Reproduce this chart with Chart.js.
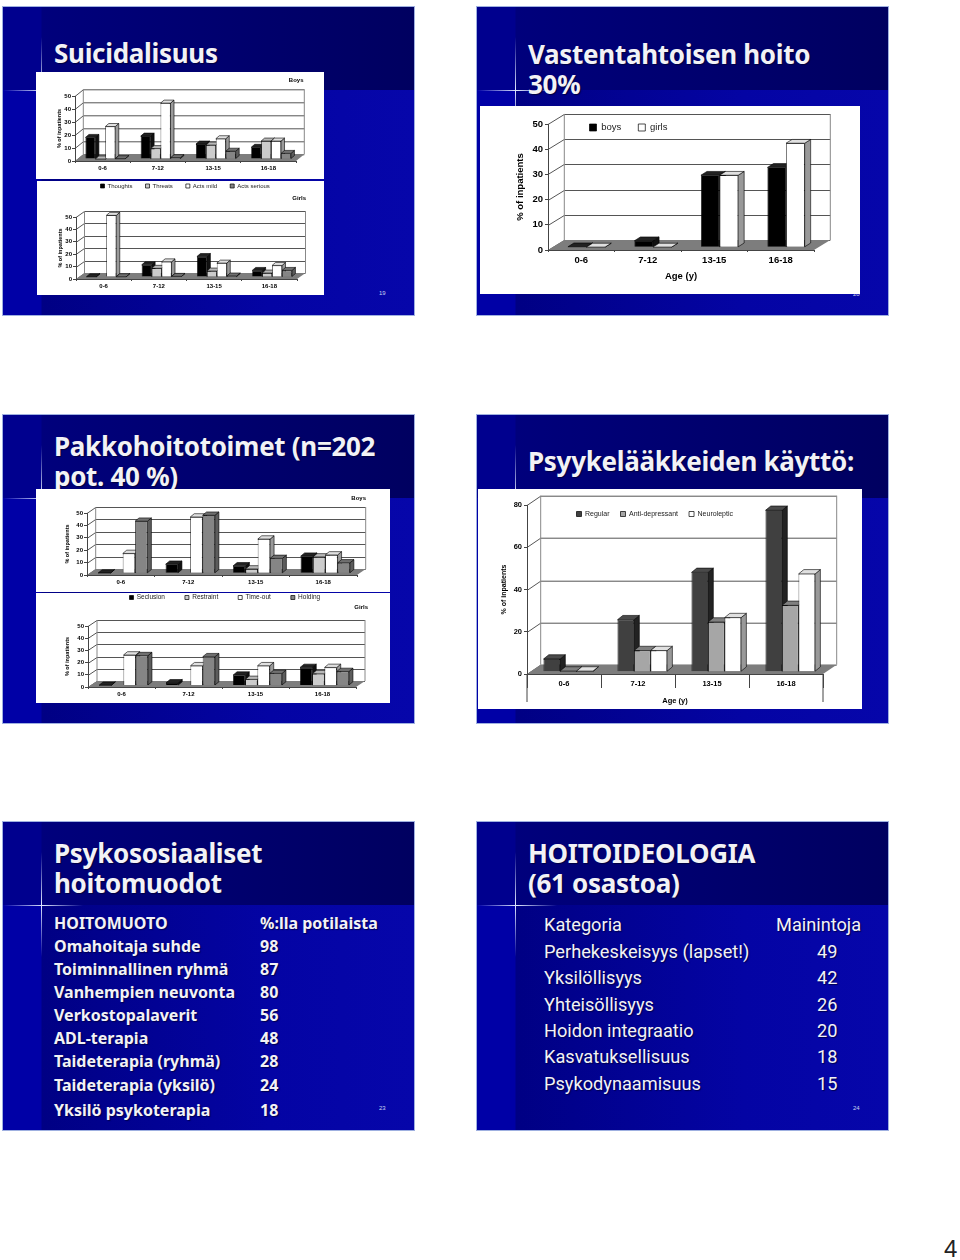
<!DOCTYPE html>
<html>
<head>
<meta charset="utf-8">
<title>Slides</title>
<script src="https://cdn.jsdelivr.net/npm/chart.js@4"></script>
<style>
html, body { margin: 0; padding: 0; background: #fff; }
#page { position: relative; width: 960px; height: 1260px; overflow: hidden; }
.slide { position: absolute; width: 411px; height: 308px; border: 1px solid #9fb0e0; overflow: hidden;
  background: linear-gradient(to right, #0000a6 0, #0000a6 38px, #000084 39px, #0404a4 65%, #0606aa 100%); }
.band { position: absolute; left: 0; top: 0; width: 100%; height: 83px;
  background: linear-gradient(to right, #00008e 0, #00008e 38px, #00007c 39px, #000060 100%); }
.flareH { position: absolute; left: 0; top: 83px; width: 80px; height: 1px;
  background: linear-gradient(to right, rgba(200,220,255,0), #dfe8ff 50%, rgba(200,220,255,0)); }
.flareV { position: absolute; left: 38px; top: 30px; width: 1px; height: 105px;
  background: linear-gradient(to bottom, rgba(200,220,255,0), #dfe8ff 50%, rgba(200,220,255,0)); }
.heading, .row { position: absolute; white-space: nowrap; color: #f2f2f6; }
.heading { font: bold 26px/30px "Noto Sans", sans-serif; letter-spacing: -0.3px; text-shadow: 1px 1px 1px #000040; }
.row { text-shadow: 1px 1px 1px #000050; }
.bold { font: bold 16px/22px "Noto Sans", sans-serif; }
.thin { font: 18.2px/24px Roboto, sans-serif; }
.num { position: absolute; font: 6px/8px "Liberation Sans", sans-serif; color: #c8d4f0; }
.panel { position: absolute; background: #fff; }
.panel canvas { display: block; }
#pageNo { position: absolute; left: 944px; top: 1235px; font: 24px/28px "Liberation Sans", sans-serif; color: #222; }
</style>
</head>
<body>
<div id="page"></div>
<script>
const ageGroups = ['0-6', '7-12', '13-15', '16-18'];

// Suicidalisuus
const suicideLabels = ['Thoughts', 'Threats', 'Acts mild', 'Acts serious'];
const boysThoughts = [16.6, 17.6, 11.5, 9];
const boysThreats = [0, 8, 10.7, 13.8];
const boysActsMild = [25, 43, 15.6, 13.8];
const boysActsSerious = [0.2, 1, 6, 4.3];
const girlsThoughts = [0.2, 9.8, 16.5, 5.3];
const girlsThreats = [null, 7, 4.8, 3.2];
const girlsActsMild = [49.7, 12.2, 11.2, 9.3];
const girlsActsSerious = [0.2, 0.5, 0.8, 5.3];

// Vastentahtoisen hoito
const involuntaryLabels = ['boys', 'girls'];
const involuntaryBoys = [0.2, 2.6, 28.6, 31.7];
const involuntaryGirls = [0.1, 0.1, 28.6, 41.3];

// Pakkohoitotoimet
const coerciveLabels = ['Seclusion', 'Restraint', 'Time-out', 'Holding'];
const boysSeclusion = [0.2, 7.3, 6, 13.8];
const boysRestraint = [null, null, 3.5, 13.2];
const boysTimeOut = [16, 45.4, 27.6, 14.8];
const boysHolding = [42, 46.8, 12, 8.4];
const girlsSeclusion = [0.2, 2.2, 8.5, 14.8];
const girlsRestraint = [null, null, 5, 9.6];
const girlsTimeOut = [25, 16.2, 16.2, 14.8];
const girlsHolding = [24.5, 23.6, 9.9, 11.5];

// Psyykelaakkeiden kaytto
const medicationLabels = ['Regular', 'Anti-depressant', 'Neuroleptic'];
const medRegular = [6, 24.6, 47, 76.4];
const medAntiDepressant = [0.3, 10, 23.5, 31.4];
const medNeuroleptic = [0.3, 10, 25.6, 46.3];

// text slides
const therapyHeader = ['HOITOMUOTO', '%:lla potilaista'];
const therapyNames = ['Omahoitaja suhde', 'Toiminnallinen ryhmä', 'Vanhempien neuvonta', 'Verkostopalaverit', 'ADL-terapia', 'Taideterapia (ryhmä)', 'Taideterapia (yksilö)', 'Yksilö psykoterapia'];
const therapyValues = [98, 87, 80, 56, 48, 28, 24, 18];
const ideologyHeader = ['Kategoria', 'Mainintoja'];
const ideologyNames = ['Perhekeskeisyys (lapset!)', 'Yksilöllisyys', 'Yhteisöllisyys', 'Hoidon integraatio', 'Kasvatuksellisuus', 'Psykodynaamisuus'];
const ideologyValues = [49, 42, 26, 20, 18, 15];

const fourGreys = {
    fill: ['#000000', '#cccccc', '#ffffff', '#858585'],
    top: ['#222222', '#b8b8b8', '#e0e0e0', '#707070'],
    side: ['#111111', '#8a8a8a', '#9a9a9a', '#5c5c5c']
};
const twoGreys = {
    fill: ['#000000', '#ffffff'],
    top: ['#222222', '#e0e0e0'],
    side: ['#111111', '#999999']
};
const threeGreys = {
    fill: ['#404040', '#a6a6a6', '#ffffff'],
    top: ['#4a4a4a', '#808080', '#e0e0e0'],
    side: ['#222222', '#7a7a7a', '#999999']
};

Chart.defaults.font.family = '"Liberation Sans", Arial, sans-serif';
Chart.defaults.color = '#000';

const page = document.getElementById('page');

function addSlide(x, y, heading, num) {
    const s = document.createElement('div');
    s.className = 'slide';
    s.style.left = x + 'px';
    s.style.top = y + 'px';
    s.innerHTML = '<div class="band"></div><div class="flareH"></div><div class="flareV"></div>';
    heading.forEach(line => {
        const h = document.createElement('div');
        h.className = 'heading';
        h.textContent = line.text;
        h.style.left = '51px';
        h.style.top = (line.y - y - 16) + 'px';
        s.appendChild(h);
    });
    page.appendChild(s);
    if (num) {
        const n = document.createElement('div');
        n.className = 'num';
        n.textContent = num[0];
        n.style.left = num[1] + 'px';
        n.style.top = num[2] + 'px';
        page.appendChild(n);
    }
}

function addRow(text, x, y, cls) {
    const r = document.createElement('div');
    r.className = 'row ' + cls;
    r.textContent = text;
    r.style.left = x + 'px';
    r.style.top = (y - 11) + 'px';
    page.appendChild(r);
}

// fit title/legend into zero height so the plot area stays where the look says,
// they get put in place after layout
const keepBoxesOut = {
    id: 'keepBoxesOut',
    beforeInit(chart) {
        const fit = chart.legend.fit;
        chart.legend.fit = function () {
            fit.call(this);
            this.height = 0;
        };
        const update = chart.titleBlock.update;
        chart.titleBlock.update = function (w, h, margins) {
            update.call(this, w, h, margins);
            this.height = 0;
        };
    },
    afterLayout(chart, args, opts) {
        if (opts.titleAt) {
            chart.titleBlock.left = 0;
            chart.titleBlock.right = opts.titleAt[0];
            chart.titleBlock.top = opts.titleAt[1] - 4;
        }
        if (opts.legendAt) {
            const pad = chart.legend.options.labels.padding;
            chart.legend.left = opts.legendAt[0] - pad;
            chart.legend.right = chart.legend.left + 300;
            chart.legend.top = opts.legendAt[1] - pad - chart.legend.options.labels.font.size / 2;
            chart.legend.bottom = chart.legend.top + 40;
        }
    }
};

// walls, floor and the top/side faces of the bars
const box3d = {
    id: 'box3d',
    beforeDatasetsDraw(chart, args, opts) {
        const { ctx, chartArea: a, scales } = chart;
        const [dx, dy] = opts.depth;
        const [sx, sy] = opts.shift;
        const [bx, by] = opts.barDepth;
        ctx.save();
        ctx.lineWidth = 1;
        ctx.strokeStyle = '#555';
        scales.y.ticks.forEach((t, i) => {
            const py = Math.round(scales.y.getPixelForTick(i)) + 0.5;
            ctx.beginPath();
            ctx.moveTo(a.left, py);
            ctx.lineTo(a.left + dx, py + dy);
            ctx.lineTo(a.right + dx, py + dy);
            ctx.stroke();
        });
        ctx.strokeStyle = '#888';
        ctx.beginPath();
        ctx.moveTo(a.left + dx, a.bottom + dy);
        ctx.lineTo(a.left + dx, a.top + dy);
        ctx.moveTo(a.right + dx, a.bottom + dy);
        ctx.lineTo(a.right + dx, a.top + dy);
        ctx.stroke();
        ctx.fillStyle = '#7d7d7d';
        ctx.beginPath();
        ctx.moveTo(a.left, a.bottom);
        ctx.lineTo(a.right, a.bottom);
        ctx.lineTo(a.right + dx, a.bottom + dy);
        ctx.lineTo(a.left + dx, a.bottom + dy);
        ctx.closePath();
        ctx.fill();

        ctx.lineWidth = 0.6;
        ctx.strokeStyle = '#000';
        const count = chart.data.labels.length;
        for (let c = 0; c < count; c++) {
            chart.data.datasets.forEach((ds, d) => {
                const bar = chart.getDatasetMeta(d).data[c];
                if (ds.data[c] === null) return;
                const l = bar.x - bar.width / 2 + sx;
                const r = bar.x + bar.width / 2 + sx;
                const t = bar.y + sy;
                const b = bar.base + sy;
                ctx.fillStyle = opts.look.side[d];
                ctx.beginPath();
                ctx.moveTo(r, t);
                ctx.lineTo(r + bx, t + by);
                ctx.lineTo(r + bx, b + by);
                ctx.lineTo(r, b);
                ctx.closePath();
                ctx.fill();
                ctx.stroke();
                ctx.fillStyle = opts.look.top[d];
                ctx.beginPath();
                ctx.moveTo(l, t);
                ctx.lineTo(l + bx, t + by);
                ctx.lineTo(r + bx, t + by);
                ctx.lineTo(r, t);
                ctx.closePath();
                ctx.fill();
                ctx.stroke();
            });
        }
        ctx.restore();
    },
    beforeDatasetDraw(chart, args, opts) {
        chart.ctx.save();
        chart.ctx.translate(opts.shift[0], opts.shift[1]);
    },
    afterDatasetDraw(chart) {
        chart.ctx.restore();
    },
    afterDraw(chart, args, opts) {
        if (!opts.outerDrop) return;
        const { ctx, chartArea: a } = chart;
        ctx.save();
        ctx.strokeStyle = '#444';
        ctx.beginPath();
        ctx.moveTo(a.left, a.bottom);
        ctx.lineTo(a.left, a.bottom + opts.outerDrop);
        ctx.moveTo(a.right, a.bottom);
        ctx.lineTo(a.right, a.bottom + opts.outerDrop);
        ctx.stroke();
        ctx.restore();
    }
};

function barChart3d(labels, series, g) {
    const [px, py, pr, pb] = g.panel;
    const [al, at, ar, ab] = g.area;
    const panel = document.createElement('div');
    panel.className = 'panel';
    panel.style.left = px + 'px';
    panel.style.top = py + 'px';
    panel.style.width = (pr - px) + 'px';
    panel.style.height = (pb - py) + 'px';
    const canvas = document.createElement('canvas');
    panel.appendChild(canvas);
    page.appendChild(panel);
    canvas.width = pr - px;
    canvas.height = pb - py;

    const axisW = al - px - g.titleLeft;
    const boldFont = { size: g.font, weight: 'bold' };
    new Chart(canvas, {
        type: 'bar',
        data: {
            labels: ageGroups,
            datasets: series.map((values, i) => ({
                label: labels[i],
                data: values,
                backgroundColor: g.look.fill[i],
                borderColor: '#000',
                borderWidth: 0.7,
                categoryPercentage: g.group,
                barPercentage: 1,
                clip: false
            }))
        },
        options: {
            responsive: false,
            animation: false,
            events: [],
            layout: {
                padding: { left: g.titleLeft, top: at - py, right: pr - ar, bottom: pb - ab - g.xHeight }
            },
            scales: {
                x: {
                    grid: { drawOnChartArea: false, tickLength: g.xTick, color: '#444', z: 1 },
                    border: { color: '#444', z: 1 },
                    ticks: { font: boldFont, padding: g.xPad, color: '#000', maxRotation: 0 },
                    title: g.xTitle ? { display: true, text: g.xTitle, font: boldFont, padding: 0, color: '#000' } : { display: false },
                    afterFit: axis => { axis.height = g.xHeight; }
                },
                y: {
                    min: 0,
                    max: g.max,
                    ticks: { stepSize: g.step, font: boldFont, padding: g.yPad, color: '#000' },
                    grid: { drawOnChartArea: false, tickLength: 3, color: '#444', z: 1 },
                    border: { color: '#444', z: 1 },
                    title: { display: true, text: '% of inpatients', font: { size: g.yFont, weight: 'bold' }, padding: 0, color: '#000' },
                    afterFit: axis => { axis.width = axisW; }
                }
            },
            plugins: {
                tooltip: { enabled: false },
                title: g.title ? { display: true, text: g.title, align: 'end', font: { size: g.font, weight: 'bold' }, padding: 0, color: '#000' } : { display: false },
                legend: g.legendAt ? {
                    display: true,
                    position: 'top',
                    align: 'start',
                    labels: {
                        boxWidth: g.legendBox,
                        boxHeight: g.legendBox,
                        padding: g.legendGap,
                        font: { size: g.legendFont },
                        color: '#222',
                        sort: (a, b) => a.datasetIndex - b.datasetIndex
                    }
                } : { display: false },
                keepBoxesOut: { titleAt: g.titleAt ? [g.titleAt[0] - px, g.titleAt[1] - py] : null, legendAt: g.legendAt ? [g.legendAt[0] - px, g.legendAt[1] - py] : null },
                box3d: { depth: g.depth, shift: g.shift, barDepth: g.barDepth, look: g.look, outerDrop: g.outerDrop || 0 }
            }
        },
        plugins: [keepBoxesOut, box3d]
    });
}

addSlide(2, 6, [{ text: 'Suicidalisuus', y: 53 }], ['19', 379, 289]);
addSlide(476, 6, [{ text: 'Vastentahtoisen hoito', y: 54 }, { text: '30%', y: 84 }], ['20', 853, 290]);
addSlide(2, 414, [{ text: 'Pakkohoitotoimet (n=202', y: 446 }, { text: 'pot. 40 %)', y: 476 }]);
addSlide(476, 414, [{ text: 'Psyykelääkkeiden käyttö:', y: 461 }]);
addSlide(2, 821, [{ text: 'Psykososiaaliset', y: 853 }, { text: 'hoitomuodot', y: 883 }], ['23', 379, 1104]);
addSlide(476, 821, [{ text: 'HOITOIDEOLOGIA', y: 853 }, { text: '(61 osastoa)', y: 883 }], ['24', 853, 1104]);

barChart3d(suicideLabels, [boysThoughts, boysThreats, boysActsMild, boysActsSerious], {
    panel: [36, 72, 324, 179], area: [75, 96, 296, 161], depth: [8.3, -6.7], shift: [2.7, -2], barDepth: [3.5, -3],
    max: 50, step: 10, group: 0.72, font: 6, yFont: 5.5, titleLeft: 20, xHeight: 14, xTick: 2, xPad: 2, yPad: 1,
    title: 'Boys', titleAt: [303.5, 80.5], look: fourGreys
});
barChart3d(suicideLabels, [girlsThoughts, girlsThreats, girlsActsMild, girlsActsSerious], {
    panel: [37, 181, 324, 295], area: [76, 217, 297, 279], depth: [8.5, -6], shift: [2.7, -2], barDepth: [3.5, -3],
    max: 50, step: 10, group: 0.72, font: 6, yFont: 5.5, titleLeft: 20, xHeight: 14, xTick: 2, xPad: 2, yPad: 1,
    title: 'Girls', titleAt: [306, 199], look: fourGreys,
    legendAt: [100.5, 186], legendBox: 4, legendGap: 13, legendFont: 6
});
barChart3d(involuntaryLabels, [involuntaryBoys, involuntaryGirls], {
    panel: [480, 106, 860, 294], area: [548, 124, 814, 250], depth: [16.3, -10], shift: [5.3, -2.7], barDepth: [6, -3.8],
    max: 50, step: 10, group: 0.56, font: 9.5, yFont: 9.5, titleLeft: 35, xHeight: 32, xTick: 2, xPad: 3, yPad: 2,
    look: twoGreys, xTitle: 'Age (y)',
    legendAt: [589.5, 127.5], legendBox: 7, legendGap: 17, legendFont: 9.5
});
barChart3d(coerciveLabels, [boysSeclusion, boysRestraint, boysTimeOut, boysHolding], {
    panel: [36, 489, 390, 592], area: [87, 513, 357, 575], depth: [8.7, -6], shift: [2, -1.7], barDepth: [4, -3.3],
    max: 50, step: 10, group: 0.73, font: 6, yFont: 5.5, titleLeft: 28, xHeight: 14, xTick: 2, xPad: 2, yPad: 1,
    title: 'Boys', titleAt: [366, 498.5], look: fourGreys
});
barChart3d(coerciveLabels, [girlsSeclusion, girlsRestraint, girlsTimeOut, girlsHolding], {
    panel: [36, 593, 390, 703], area: [88, 626, 356, 687], depth: [9, -6], shift: [2, -1.5], barDepth: [4, -3.3],
    max: 50, step: 10, group: 0.73, font: 6, yFont: 5.5, titleLeft: 28, xHeight: 14, xTick: 2, xPad: 2, yPad: 1,
    title: 'Girls', titleAt: [368, 608], look: fourGreys,
    legendAt: [129.5, 597.5], legendBox: 4, legendGap: 20, legendFont: 6.5
});
barChart3d(medicationLabels, [medRegular, medAntiDepressant, medNeuroleptic], {
    panel: [478, 489, 862, 709], area: [527, 505, 823, 674], depth: [13.7, -9.3], shift: [4.3, -2.3], barDepth: [5.3, -4.3],
    max: 80, step: 20, group: 0.67, font: 7.5, yFont: 7, titleLeft: 22, xHeight: 31, xTick: 14, xPad: -9, yPad: 2,
    look: threeGreys, xTitle: 'Age (y)', outerDrop: 28,
    legendAt: [576.5, 514], legendBox: 5, legendGap: 11, legendFont: 7
});

addRow(therapyHeader[0], 54, 923, 'bold');
addRow(therapyHeader[1], 260, 923, 'bold');
const therapyY = [946, 969, 992, 1015, 1038, 1061, 1085, 1110];
therapyNames.forEach((name, i) => {
    addRow(name, 54, therapyY[i], 'bold');
    addRow(String(therapyValues[i]), 260, therapyY[i], 'bold');
});

addRow(ideologyHeader[0], 544, 924, 'thin');
addRow(ideologyHeader[1], 776, 924, 'thin');
ideologyNames.forEach((name, i) => {
    const y = 951 + i * 26.35;
    addRow(name, 544, y, 'thin');
    addRow(String(ideologyValues[i]), 817, y, 'thin');
});

const pageNo = document.createElement('div');
pageNo.id = 'pageNo';
pageNo.textContent = '4';
page.appendChild(pageNo);
</script>
</body>
</html>
